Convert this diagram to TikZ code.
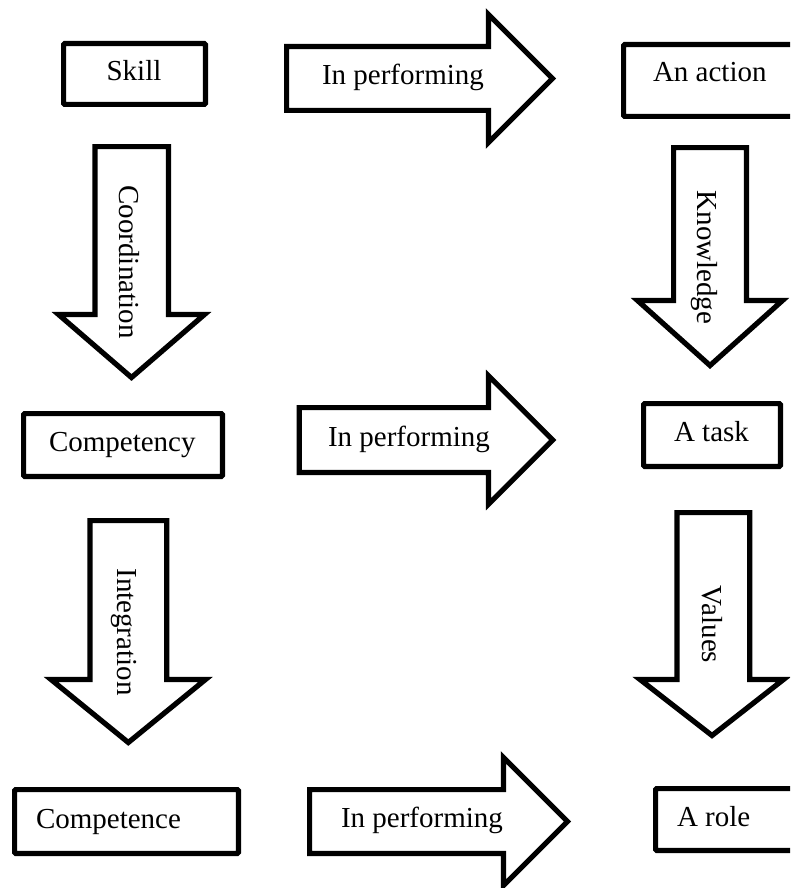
\documentclass[tikz,border=0pt]{standalone}
\usepackage{fontspec}
\setmainfont{Liberation Serif}
\begin{document}
\begin{tikzpicture}[x=1pt,y=-1pt,
  outline/.style={draw=black,line width=5.2pt,fill=white},
  boxframe/.style={outline,rounded corners=1.2pt},
  arrowframe/.style={outline,line join=miter,miter limit=10},
  lbl/.style={inner sep=0pt,outer sep=0pt,font=\fontsize{29}{34}\selectfont},
  vlbl/.style={lbl,rotate=-90,anchor=base}]
\useasboundingbox (0,0) rectangle (790,888);
\clip (0,0) rectangle (790,888);

% concept boxes
\draw[boxframe] (63.6,43.6) rectangle (205.4,104.4);
\draw[boxframe] (623.6,44.6) rectangle (810,116.4);
\draw[boxframe] (23.6,413.6) rectangle (222.4,476.4);
\draw[boxframe] (643.6,403.6) rectangle (780.4,466.4);
\draw[boxframe] (14.6,789.6) rectangle (238.4,853.4);
\draw[boxframe] (655.6,788.6) rectangle (810,850.4);

\node[lbl,anchor=base] (skill) at (134,81) {Skill};
\node[lbl,anchor=base west] (action) at (653,82) {An action};
\node[lbl,anchor=base west] (competency) at (49,451) {Competency};
\node[lbl,anchor=base west] (task) at (674,441) {A task};
\node[lbl,anchor=base west] (competence) at (36,828) {Competence};
\node[lbl,anchor=base west] (role) at (677,826) {A role};

% horizontal block arrows
\draw[arrowframe] (286.6,46.6) -- (488.5,46.6) -- (488.5,14.5) -- (552.5,78.5)
  -- (488.5,142.5) -- (488.5,110.4) -- (286.6,110.4) -- cycle;
\draw[arrowframe] (299.3,407.6) -- (488.5,407.6) -- (488.5,375.8) -- (552.7,440)
  -- (488.5,504.2) -- (488.5,472.4) -- (299.3,472.4) -- cycle;
\draw[arrowframe] (309.6,789.6) -- (503.5,789.6) -- (503.5,757.5) -- (567.5,821.5)
  -- (503.5,885.5) -- (503.5,853.4) -- (309.6,853.4) -- cycle;

\node[lbl,anchor=base west] (perf1) at (322,85) {In performing};
\node[lbl,anchor=base west] (perf2) at (328,446) {In performing};
\node[lbl,anchor=base west] (perf3) at (341,827) {In performing};

% vertical block arrows
\draw[arrowframe] (94.9,146.6) -- (168.4,146.6) -- (168.4,314.5) -- (204.5,314.5)
  -- (131.5,377.5) -- (58.5,314.5) -- (94.9,314.5) -- cycle;
\draw[arrowframe] (673.6,147.6) -- (746.4,147.6) -- (746.4,300.5) -- (782.5,300.5)
  -- (710,365.5) -- (637.5,300.5) -- (673.6,300.5) -- cycle;
\draw[arrowframe] (89.9,520.6) -- (166.7,520.6) -- (166.7,679.5) -- (205.5,679.5)
  -- (128.3,742.5) -- (51,679.5) -- (89.9,679.5) -- cycle;
\draw[arrowframe] (676.9,512.6) -- (749.7,512.6) -- (749.7,679.5) -- (783.5,679.5)
  -- (712,735.5) -- (640,679.5) -- (676.9,679.5) -- cycle;

\node[vlbl] (coord) at (119,262) {Coordination};
\node[vlbl] (know) at (697,257.5) {Knowledge};
\node[vlbl] (integ) at (117,632) {Integration};
\node[vlbl] (values) at (702,624.5) {Values};
\end{tikzpicture}
\end{document}
